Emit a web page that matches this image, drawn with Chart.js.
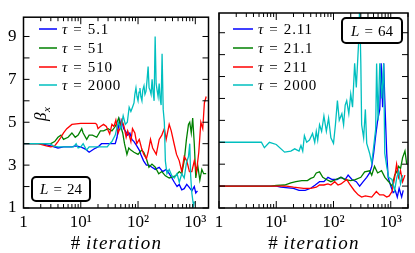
<!DOCTYPE html>
<html><head><meta charset="utf-8">
<script src="https://cdn.jsdelivr.net/npm/chart.js@4/dist/chart.umd.min.js"></script>
<style>
html,body{margin:0;padding:0;background:#fff;}
#wrap{position:relative;width:415px;height:253px;}
canvas{position:absolute;left:0;top:0;width:415px;height:253px;}
</style></head><body>
<div id="wrap"><canvas id="c1" width="415" height="253"></canvas><canvas id="c2" width="415" height="253"></canvas></div>
<script>
// ---------- data ----------
const xMajorTicks = [1, 10, 100, 1000];
const xTickLabels = ['1', '10¹', '10²', '10³'];
const xMinorTicks = [2,3,4,5,6,7,8,9,20,30,40,50,60,70,80,90,200,300,400,500,600,700,800,900,2000];
const yTicks = [1,2,3,4,5,6,7,8,9];
const yTickLabels = ['1','','3','','5','','7','','9'];

const tauL24 = ['5.1', '51', '510', '2000'];
const tauL64 = ['2.11', '21.1', '211', '2000'];
const seriesColors = ['#0000ff', '#008000', '#ff0000', '#00bfbf'];

// L = 24
const blue24_x = [1,2,3,4,5,7,8,10,12,14,17,20,23,30,40,43,46,48,50,53,56,60,66,72,78,85,95,105,112,125,140,155,175,200,234,270,310,350,390,430,480,525,580,640,710,790,870,960,1020,1090];
const blue24_y = [4,4,3.9,3.8,3.85,3.85,3.9,3.85,3.75,3.6,3.75,3.85,4,4,4,4.3,4.9,5.1,4.8,5.0,4.7,4.6,4.4,4.5,4.2,4.1,3.9,3.7,3.5,3.2,3.0,3.0,2.9,2.8,2.9,2.7,2.8,2.6,2.4,2.2,2.0,2.1,1.85,1.9,2.1,1.95,1.8,2.0,1.7,1.8];
const green24_x = [1,2,3,3.5,4,4.5,5,6,7,8,9,10.4,11,12.7,14,16,19,22,25,30,35,40,43,46,50,54,58,64,69,75,85,100,115,126,140,155,175,200,230,260,300,350,400,450,525,580,640,700,760,800,850,900,960,1020,1100,1200,1300,1400,1550];
const green24_y = [4,4,4,4.1,4.3,4.4,4.2,4.3,4.5,4.3,4.4,4.7,4.5,4.2,4.4,4.4,4.3,4.6,4.6,4.7,4.6,4.8,5.0,5.2,4.8,4.5,4.0,3.5,3.8,3.7,3.6,3.5,3.7,3.6,3.3,2.9,3.05,2.9,2.6,2.7,2.5,2.4,2.45,2.5,2.7,2.6,3.2,4.2,4.9,5.0,4.5,5.2,4.0,2.4,3.0,2.3,2.8,2.6,2.6];
const red24_x = [1,1.8,2.5,3,3.5,4,4.5,5,5.7,7,10,14,18,19,20,22,25,28,32,35,38,41,45,48,52,57,62,66,70,75,80,88,95,105,115,126,140,150,165,180,208,234,260,288,310,350,380,430,470,525,580,640,710,790,870,960,1050,1150,1250,1350,1440,1550];
const red24_y = [4,4,3.9,3.85,3.9,4.1,4.3,4.5,4.7,4.9,4.95,4.95,4.95,4.9,4.7,4.8,4.9,4.8,4.45,4.9,4.8,5.1,4.5,4.7,5.1,4.8,4.3,4.6,4.4,4.1,4.7,4.5,4.0,4.2,3.8,3.5,3.3,3.6,4.2,3.8,3.5,4.2,4.4,4.7,4.2,4.9,4.6,3.95,3.5,3.2,2.7,3.4,3.2,2.7,2.7,3.2,2.7,3.6,5.0,4.7,5.9,6.2];
const cyan24_x = [1,2.9,3.3,4,5,6,7.5,8.3,9,10,11,12.6,14,16,20,25,29,32,35,40,45,50,55,60,65,70,75,80,85,88,92,96,100,104,108,112,117,121,127,132,138,144,150,156,162,169,176,183,191,199,207,215,224,234,243,253,263,275,288,300,320,350,390,430,480,525,580,640,700,760,800,830,870,930,960];
const cyan24_y = [4,4,3.9,3.85,3.85,3.85,3.85,4.0,3.8,3.85,4.0,3.7,3.85,3.85,3.85,3.85,3.85,4.0,4.1,4.4,5.0,4.7,5.3,4.9,5.0,5.7,5.5,5.7,5.9,6.3,6.6,6.2,6.0,6.4,6.6,6.2,6.0,6.5,6.7,6.3,6.45,7.0,7.6,6.6,6.5,6.3,7.0,6.4,6.0,9.0,6.8,6.5,6.2,6.8,6.1,5.8,8.2,5.6,5.0,3.2,2.6,2.8,2.5,2.4,2.6,2.2,2.6,2.4,3.1,3.4,4.0,2.5,1.7,1.1,1.3];

// L = 64
const blue64_x = [1,10,12,20,25,32,40,48,57,68,80,95,115,135,160,180,210,250,286,330,380,427,465,503,545,590,643,680,720,752,785,820,850,900,1000,1100,1200,1300,1400,1550,1650];
const blue64_y = [2,2,1.95,1.9,1.8,1.8,1.9,2.05,2.2,2.2,2.4,2.3,2.3,2.4,2.3,2.5,2.3,2.2,2.0,2.2,2.4,2.6,2.9,3.5,4.3,5.0,5.5,7.6,5.6,7.6,6.0,4.6,3.5,2.4,2.0,1.7,1.8,1.5,1.9,1.5,1.8];
const green64_x = [1,8,10,14,18,22,28,35,40,45,50,57,65,75,90,110,135,160,200,240,300,350,427,465,520,590,690,790,920,1050,1170,1265,1370,1480,1610,1770,1900];
const green64_y = [2,2,2.03,2.05,2.15,2.2,2.25,2.25,2.35,2.4,2.6,2.65,2.4,2.3,2.2,2.3,2.4,2.3,2.25,2.3,2.4,2.65,2.7,2.5,2.9,2.6,2.7,2.4,2.2,2.0,2.5,2.65,2.9,2.8,3.3,3.6,3.0];
const red64_x = [1,15,20,30,40,50,57,68,80,90,105,120,135,170,190,230,270,310,360,465,560,640,750,850,940,1050,1170,1265,1370,1480,1610,1770];
const red64_y = [2,2,1.95,1.9,1.9,1.95,2.05,2.05,2.1,2.05,2.2,2.05,2.1,2.3,2.1,1.8,1.6,1.5,1.55,1.5,1.75,1.6,1.6,1.5,1.55,1.75,2.4,3.0,2.4,2.7,2.2,2.5];
const cyan64_x = [1,5.5,6.2,7.6,10,14,18,21,25,27,29,31,34,38,43,47,50,53,57,62,68,75,82,90,100,108,117,126,140,150,160,170,185,200,215,234,250,275,286,300,310,336,360,380,427,465,503,545,566,600,643,695,752,785,850,920,1050,1170,1265,1370,1480,1610];
const cyan64_y = [4,4,3.75,4.0,3.9,3.55,3.6,3.7,3.6,3.85,3.6,4.3,4.0,4.1,4.4,4.0,4.5,4.1,4.8,4.5,5.2,4.5,5.1,4.2,3.95,4.8,5.9,5.0,5.3,4.8,5.7,5.9,5.3,6.2,5.6,7.6,6.5,8.6,10.2,7.6,4.8,4.2,5.5,3.95,3.5,3.05,3.8,4.6,7.6,5.0,7.6,6.0,7.6,3.5,2.9,2.4,2.3,1.8,2.35,2.7,2.1,2.5];

// ---------- drawing ----------
const SERIF = '"Liberation Serif", "Times New Roman", serif';

function decor(p) {
  return {
    id: 'decor_' + p.name,
    afterDatasetsDraw(chart) {
      const ctx = chart.ctx, a = chart.chartArea, xs = chart.scales.x, ys = chart.scales.y;
      ctx.save();
      ctx.strokeStyle = '#000';
      ctx.lineWidth = 1;
      ctx.beginPath();
      ys.ticks.forEach(t => {
        const py = ys.getPixelForValue(t.value);
        ctx.moveTo(a.left, py); ctx.lineTo(a.left + 6, py);
        ctx.moveTo(a.right, py); ctx.lineTo(a.right - 6, py);
      });
      xMajorTicks.forEach(v => {
        if (v < xs.min || v > xs.max) return;
        const px = xs.getPixelForValue(v);
        ctx.moveTo(px, a.bottom); ctx.lineTo(px, a.bottom - 7);
        ctx.moveTo(px, a.top); ctx.lineTo(px, a.top + 7);
      });
      xMinorTicks.forEach(v => {
        if (v < xs.min || v > xs.max) return;
        const px = xs.getPixelForValue(v);
        ctx.moveTo(px, a.bottom); ctx.lineTo(px, a.bottom - 4);
        ctx.moveTo(px, a.top); ctx.lineTo(px, a.top + 4);
      });
      ctx.stroke();
      ctx.lineWidth = 1.5;
      ctx.strokeRect(a.left, a.top, a.right - a.left, a.bottom - a.top);

      // legend
      ctx.fillStyle = '#000';
      ctx.textBaseline = 'alphabetic';
      p.taus.forEach((t, i) => {
        const ly = p.legY[i];
        ctx.strokeStyle = seriesColors[i];
        ctx.lineWidth = 1.5;
        ctx.beginPath(); ctx.moveTo(p.legX0, ly); ctx.lineTo(p.legX1, ly); ctx.stroke();
        let x = p.legX1 + 5;
        const by = ly + 5;
        ctx.font = 'italic 15px ' + SERIF;
        ctx.fillText('τ', x, by); x += ctx.measureText('τ').width + 6;
        ctx.font = '15px ' + SERIF;
        ctx.fillText('=', x, by); x += ctx.measureText('=').width + 6;
        ctx.letterSpacing = '0.8px';
        ctx.fillText(t, x, by);
        ctx.letterSpacing = '0px';
      });

      // L box
      const b = p.box;
      ctx.fillStyle = '#fff';
      ctx.strokeStyle = '#000';
      ctx.lineWidth = 2;
      ctx.beginPath(); ctx.roundRect(b.x, b.y, b.w, b.h, 4); ctx.fill(); ctx.stroke();
      ctx.fillStyle = '#000';
      ctx.font = 'italic 15px ' + SERIF;
      const wL = ctx.measureText('L').width;
      ctx.font = '15px ' + SERIF;
      const wEq = ctx.measureText('=').width, wN = ctx.measureText(p.Lval).width;
      const tot = wL + 5 + wEq + 5 + wN;
      let tx = b.x + (b.w - tot) / 2; const ty = b.y + b.h / 2 + 5;
      ctx.font = 'italic 15px ' + SERIF; ctx.fillText('L', tx, ty); tx += wL + 5;
      ctx.font = '15px ' + SERIF; ctx.fillText('=', tx, ty); tx += wEq + 5; ctx.fillText(p.Lval, tx, ty);

      // beta label
      if (p.beta) {
        ctx.save();
        ctx.translate(46, 121);
        ctx.rotate(-Math.PI / 2);
        ctx.font = 'italic 17px ' + SERIF;
        ctx.fillText('β', 0, 0);
        const wb = ctx.measureText('β').width;
        ctx.font = 'italic 11px ' + SERIF;
        ctx.fillText('x', wb + 0.5, 4);
        ctx.restore();
      }

      // x title
      ctx.font = '19px ' + SERIF;
      const wh = ctx.measureText('# ').width;
      ctx.font = 'italic 19px ' + SERIF;
      ctx.letterSpacing = '1.2px';
      const wi = ctx.measureText('iteration').width;
      const cx = (a.left + a.right) / 2;
      let sx = cx - (wh + wi) / 2;
      ctx.letterSpacing = '0px';
      ctx.font = '19px ' + SERIF;
      ctx.fillText('#', sx, 249);
      ctx.font = 'italic 19px ' + SERIF;
      ctx.letterSpacing = '1.2px';
      ctx.fillText('iteration', sx + wh + 1, 249);
      ctx.restore();
    }
  };
}

function buildChart(id, p) {
  return new Chart(document.getElementById(id), {
    type: 'line',
    data: {
      datasets: p.series.map((s, i) => ({
        data: s[0].map((v, j) => ({ x: v, y: s[1][j] })),
        borderColor: seriesColors[i], borderWidth: 1.3, pointRadius: 0,
        tension: 0, fill: false, order: 3 - i
      }))
    },
    options: {
      responsive: false, animation: false, devicePixelRatio: 1,
      layout: { padding: { left: 0, top: 13, right: p.padRight, bottom: 0 } },
      plugins: { legend: { display: false }, tooltip: { enabled: false } },
      scales: {
        x: {
          type: 'logarithmic', min: 1, max: p.xMax,
          afterBuildTicks: s => { s.ticks = xMajorTicks.filter(v => v <= p.xMax).map(v => ({ value: v })); },
          afterFit: s => { s.height = 45; },
          grid: { display: false, drawTicks: false }, border: { display: false },
          ticks: { autoSkip: false, maxRotation: 0, minRotation: 0, padding: 4, color: '#000',
                   font: { family: SERIF, size: 17 },
                   callback: v => { const k = xMajorTicks.indexOf(v); return k >= 0 ? xTickLabels[k] : ''; } }
        },
        y: {
          type: 'linear', min: 1, max: 9.9,
          afterBuildTicks: s => { s.ticks = yTicks.map(v => ({ value: v })); },
          afterFit: s => { s.width = p.yWidth; },
          grid: { display: false, drawTicks: false }, border: { display: false },
          ticks: { display: p.yLabels, padding: 7, color: '#000', font: { family: SERIF, size: 17 },
                   callback: v => { const k = yTicks.indexOf(v); return k >= 0 ? yTickLabels[k] : ''; } }
        }
      }
    },
    plugins: [decor(p)]
  });
}

buildChart('c1', {
  name: 'L24', xMax: 1700, padRight: 415 - 208.5, yWidth: 23.5, yLabels: true,
  series: [[blue24_x, blue24_y], [green24_x, green24_y], [red24_x, red24_y], [cyan24_x, cyan24_y]],
  taus: tauL24, legX0: 39, legX1: 57, legY: [29, 48, 67, 85],
  box: { x: 32, y: 177, w: 58, h: 24 }, Lval: '24', beta: true
});
buildChart('c2', {
  name: 'L64', xMax: 2000, padRight: 415 - 408, yWidth: 219, yLabels: false,
  series: [[blue64_x, blue64_y], [green64_x, green64_y], [red64_x, red64_y], [cyan64_x, cyan64_y]],
  taus: tauL64, legX0: 233, legX1: 253, legY: [29, 48, 67, 85],
  box: { x: 342, y: 18, w: 60, h: 25 }, Lval: '64', beta: false
});
</script></body></html>
